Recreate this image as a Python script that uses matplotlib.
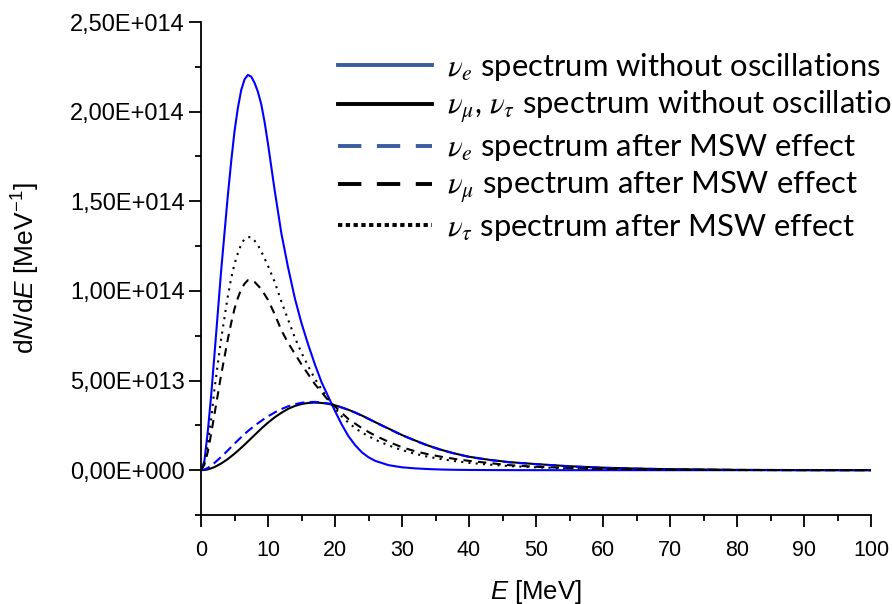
import matplotlib
matplotlib.use("Agg")
import matplotlib.pyplot as plt
from matplotlib.font_manager import FontProperties
from matplotlib.lines import Line2D
from matplotlib.ticker import FuncFormatter, MultipleLocator

# energy grid [MeV] and spectra in units of 1e14 MeV^-1
energy = [0, 0.5, 1, 1.5, 2, 3, 4, 4.5, 5, 5.5, 6, 6.5, 7, 7.5, 8, 8.5, 9,
          9.5, 10, 10.5, 11, 12, 13, 14, 15, 16, 17, 18, 19, 20, 21, 22, 23,
          24, 25, 26, 28, 30, 32, 34, 36, 38, 40, 43, 46, 50, 55, 60, 65, 70,
          80, 90, 100]

nue_no_osc = [0, 0.05, 0.21, 0.41, 0.64, 1.11, 1.53, 1.72, 1.89, 2.02, 2.12,
              2.18, 2.205, 2.195, 2.16, 2.11, 2.04, 1.94, 1.82, 1.69, 1.56,
              1.32, 1.13, 0.96, 0.82, 0.70, 0.59, 0.49, 0.41, 0.33, 0.255,
              0.19, 0.14, 0.10, 0.072, 0.052, 0.028, 0.016, 0.01, 0.006,
              0.0035, 0.002, 0.0012, 0.0006, 0.0003, 0.0001, 0, 0, 0, 0, 0, 0,
              0]

nux_no_osc = [0, 0.001, 0.004, 0.01, 0.017, 0.037, 0.062, 0.077, 0.092, 0.108,
              0.125, 0.142, 0.16, 0.178, 0.196, 0.214, 0.232, 0.249, 0.265,
              0.28, 0.295, 0.32, 0.342, 0.358, 0.369, 0.375, 0.377, 0.375,
              0.37, 0.362, 0.35, 0.337, 0.322, 0.305, 0.287, 0.268, 0.232,
              0.196, 0.165, 0.136, 0.112, 0.092, 0.075, 0.058, 0.045, 0.034,
              0.022, 0.014, 0.009, 0.0055, 0.0016, 0.0006, 0.0002]

nue_msw = [0, 0.004, 0.012, 0.025, 0.04, 0.074, 0.11, 0.129, 0.148, 0.166,
           0.184, 0.201, 0.218, 0.233, 0.248, 0.262, 0.275, 0.288, 0.30,
           0.311, 0.322, 0.341, 0.356, 0.368, 0.376, 0.38, 0.381, 0.378,
           0.372, 0.362, 0.35, 0.336, 0.321, 0.304, 0.286, 0.267, 0.231,
           0.195, 0.164, 0.135, 0.111, 0.091, 0.074, 0.057, 0.044, 0.033,
           0.021, 0.013, 0.0085, 0.0052, 0.0015, 0.0005, 0.0002]

numu_msw = [0, 0.03, 0.1, 0.2, 0.31, 0.53, 0.73, 0.82, 0.90, 0.96, 1.01, 1.04,
            1.06, 1.06, 1.05, 1.03, 1.01, 0.98, 0.95, 0.91, 0.87, 0.78, 0.71,
            0.65, 0.59, 0.535, 0.48, 0.435, 0.39, 0.355, 0.32, 0.285, 0.26,
            0.235, 0.213, 0.193, 0.158, 0.128, 0.105, 0.088, 0.074, 0.062,
            0.052, 0.04, 0.028, 0.019, 0.012, 0.0075, 0.0047, 0.003, 0.0011,
            0.0004, 0.0001]

nutau_msw = [0, 0.04, 0.14, 0.28, 0.45, 0.73, 0.97, 1.07, 1.15, 1.21, 1.26,
             1.29, 1.30, 1.30, 1.28, 1.255, 1.22, 1.18, 1.14, 1.095, 1.05,
             0.94, 0.84, 0.74, 0.655, 0.58, 0.51, 0.45, 0.395, 0.345, 0.30,
             0.265, 0.235, 0.21, 0.19, 0.17, 0.138, 0.112, 0.091, 0.074,
             0.061, 0.05, 0.041, 0.031, 0.023, 0.016, 0.01, 0.006, 0.0037,
             0.0023, 0.0008, 0.0003, 0.0001]

labels = [
    r"$\nu_e$ spectrum without oscillations",
    r"$\nu_\mu$, $\nu_\tau$ spectrum without oscillations",
    r"$\nu_e$ spectrum after MSW effect",
    r"$\nu_\mu$ spectrum after MSW effect",
    r"$\nu_\tau$ spectrum after MSW effect",
]

scale = 1e14

plt.rcParams["font.family"] = "Liberation Sans"
plt.rcParams["mathtext.fontset"] = "custom"
plt.rcParams["mathtext.rm"] = "Liberation Sans"
plt.rcParams["mathtext.it"] = "Liberation Sans:italic"

fig = plt.figure(figsize=(8.92, 6.04), dpi=100)
ax = fig.add_axes([201 / 892, 1 - 515 / 604, 670 / 892, 493 / 604])

lw = 1.5
ax.plot(energy, [v * scale for v in nue_no_osc], color="#0000ff", lw=lw)
ax.plot(energy, [v * scale for v in nux_no_osc], color="black", lw=lw)
ax.plot(energy, [v * scale for v in nue_msw], color="#0000ff", lw=lw,
        dashes=(4.5, 2.5))
ax.plot(energy, [v * scale for v in numu_msw], color="black", lw=lw,
        dashes=(4, 3))
ax.plot(energy, [v * scale for v in nutau_msw], color="black", lw=lw,
        dashes=(1, 2.5))

ax.set_xlim(0, 100)
ax.set_ylim(-0.25e14, 2.5e14)
ax.xaxis.set_major_locator(MultipleLocator(10))
ax.xaxis.set_minor_locator(MultipleLocator(5))
ax.yaxis.set_major_locator(MultipleLocator(0.5e14))
ax.yaxis.set_minor_locator(MultipleLocator(0.25e14))


def sci_comma(v, pos):
    # Origin style labels: 2,50E+014
    if v == 0:
        return "0,00E+000"
    mant, exp = f"{v:.2E}".split("E")
    return f"{mant.replace('.', ',')}E{exp[0]}{int(exp[1:]):03d}"


ax.yaxis.set_major_formatter(FuncFormatter(sci_comma))

for side in ("top", "right"):
    ax.spines[side].set_visible(False)
for side in ("left", "bottom"):
    ax.spines[side].set_linewidth(1.3)
ax.tick_params(which="major", direction="out", length=8.5, width=1.3)
ax.tick_params(which="minor", direction="out", length=4, width=1.3)
ax.tick_params(axis="y", labelsize=17, pad=3)
ax.tick_params(axis="x", labelsize=15.5, pad=9.5)

ax.set_xlabel(r"$E$ [MeV]", fontsize=18.5, labelpad=12)
ax.set_ylabel(r"d$N$/d$E$ [MeV$^{-1}$]", fontsize=19, labelpad=20)

legend_blue = "#3a5da0"
handles = [
    Line2D([], [], color=legend_blue, lw=2.8),
    Line2D([], [], color="black", lw=2.8),
    Line2D([], [], color=legend_blue, lw=2.8, dashes=(6, 4)),
    Line2D([], [], color="black", lw=2.8, dashes=(6, 4)),
    Line2D([], [], color="black", lw=2.8, dashes=(1.1, 0.9)),
]
legend_font = FontProperties(family="Lato", size=22.3, math_fontfamily="stix")
fig.legend(handles, labels, loc="upper left",
           bbox_to_anchor=(338 / 892, 1 - 51 / 604), frameon=False,
           prop=legend_font, handlelength=3.05, handletextpad=0.48,
           labelspacing=0.2, borderpad=0, borderaxespad=0)

fig.savefig("out.png", dpi=100)
